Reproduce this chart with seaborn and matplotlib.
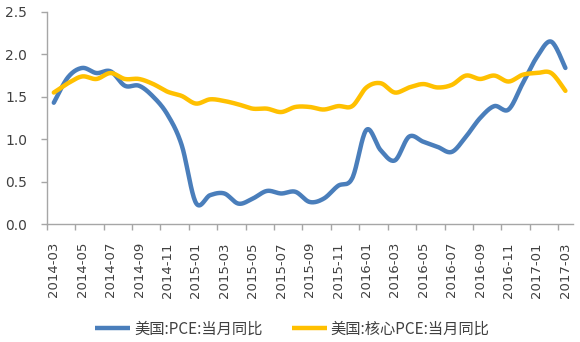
import numpy as np
import pandas as pd
import matplotlib
matplotlib.use("Agg")
import matplotlib.pyplot as plt
import seaborn as sns
from matplotlib.lines import Line2D

months = ["2014-03", "2014-04", "2014-05", "2014-06", "2014-07", "2014-08", "2014-09",
          "2014-10", "2014-11", "2014-12", "2015-01", "2015-02", "2015-03", "2015-04",
          "2015-05", "2015-06", "2015-07", "2015-08", "2015-09", "2015-10", "2015-11",
          "2015-12", "2016-01", "2016-02", "2016-03", "2016-04", "2016-05", "2016-06",
          "2016-07", "2016-08", "2016-09", "2016-10", "2016-11", "2016-12", "2017-01",
          "2017-02", "2017-03"]
pce = [1.43, 1.73, 1.84, 1.78, 1.80, 1.63, 1.63, 1.50, 1.29, 0.93, 0.25, 0.34, 0.36,
       0.24, 0.30, 0.39, 0.36, 0.38, 0.26, 0.30, 0.45, 0.54, 1.11, 0.87, 0.75, 1.03,
       0.97, 0.91, 0.85, 1.03, 1.25, 1.39, 1.35, 1.66, 1.97, 2.15, 1.84]
core = [1.55, 1.66, 1.74, 1.71, 1.78, 1.71, 1.71, 1.65, 1.56, 1.51, 1.42, 1.47, 1.45,
        1.41, 1.36, 1.36, 1.32, 1.38, 1.38, 1.35, 1.39, 1.39, 1.61, 1.66, 1.55, 1.61,
        1.65, 1.61, 1.64, 1.75, 1.71, 1.75, 1.68, 1.76, 1.78, 1.78, 1.57]
series_names = ["美国:PCE:当月同比", "美国:核心PCE:当月同比"]
colors = ["#4A7EBB", "#FFC000"]
yticks = [0.0, 0.5, 1.0, 1.5, 2.0, 2.5]


def smooth(values, steps=20):
    """Excel-style smoothed line (Bezier through the points, tension 1/6)."""
    p = np.column_stack([np.arange(len(values), dtype=float), np.asarray(values, float)])
    out = [p[0]]
    n = len(p)
    for i in range(n - 1):
        p0 = p[i - 1] if i > 0 else p[i]
        p1, p2 = p[i], p[i + 1]
        p3 = p[i + 2] if i + 2 < n else p[i + 1]
        c1 = p1 + (p2 - p0) / 6.0
        c2 = p2 - (p3 - p1) / 6.0
        t = np.linspace(0, 1, steps + 1)[1:, None]
        seg = ((1 - t) ** 3) * p1 + 3 * ((1 - t) ** 2) * t * c1 + 3 * (1 - t) * t ** 2 * c2 + t ** 3 * p2
        out.extend(seg)
    out = np.array(out)
    return out[:, 0], out[:, 1]


frames = []
for name, vals in zip(series_names, [pce, core]):
    xs, ys = smooth(vals)
    frames.append(pd.DataFrame({"x": xs, "y": ys, "series": name}))
df = pd.concat(frames, ignore_index=True)

sns.set_theme(style="white")
plt.rcParams["font.family"] = ["Noto Sans CJK SC", "DejaVu Sans"]

fig = plt.figure(figsize=(5.8, 3.42), dpi=100)
ax = fig.add_axes([0.0805, 0.345, 0.9066, 0.62])

sns.lineplot(data=df, x="x", y="y", hue="series", palette=colors, sort=False,
             estimator=None, linewidth=3.2, ax=ax, legend=False)

ax.set_xlim(-0.5, len(months) - 0.5)
ax.set_ylim(0, 2.5)
ax.set_yticks(yticks)
ax.set_yticklabels([f"{v:.1f}" for v in yticks], fontsize=10, color="#404040",
                   family="DejaVu Sans")
pos = list(range(0, len(months), 2))
ax.set_xticks(pos)
ax.set_xticklabels([months[i] for i in pos], rotation=90, fontsize=9.5,
                   color="#404040", family="DejaVu Sans")
ax.set_xticks(np.arange(-0.5, len(months) - 0.4, 2), minor=True)
ax.tick_params(axis="x", which="major", length=0, pad=13)
ax.tick_params(axis="x", which="minor", length=4, color="#A6A6A6", width=1, bottom=True)
ax.tick_params(axis="y", length=4, color="#A6A6A6", width=1, left=True, pad=10)
ax.set_xlabel("")
ax.set_ylabel("")
for s in ["top", "right"]:
    ax.spines[s].set_visible(False)
for s in ["left", "bottom"]:
    ax.spines[s].set_color("#A6A6A6")
    ax.spines[s].set_linewidth(1)

handles = [Line2D([], [], color=c, linewidth=3.2, solid_capstyle="butt") for c in colors]
fig.legend(handles, series_names, loc="center", bbox_to_anchor=(0.504, 0.038), ncol=2,
           frameon=False, fontsize=11, handlelength=2.3, columnspacing=1.9,
           handletextpad=0.25, labelcolor="#404040")

fig.savefig("out.png", dpi=100)
